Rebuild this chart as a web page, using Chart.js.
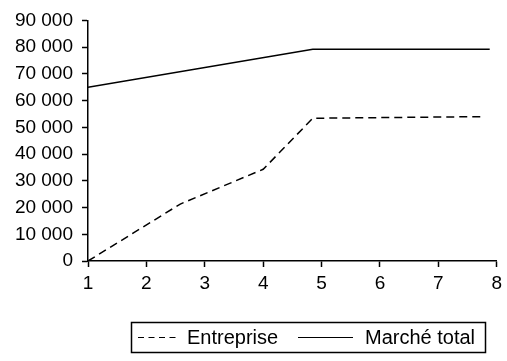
<!DOCTYPE html>
<html>
<head>
<meta charset="utf-8">
<script src="https://cdn.jsdelivr.net/npm/chart.js@4/dist/chart.umd.min.js"></script>
<style>
  html, body { margin: 0; padding: 0; background: #fff; }
  #wrap { width: 507px; height: 361px; position: relative; }
</style>
</head>
<body>
<div id="wrap"><canvas id="c"></canvas></div>
<script>
// Company sales versus total market size over the periods
const seriesNames = ['Entreprise', 'Marché total'];
const entrepriseX = [1, 2.58, 4, 4.85, 7.73];
const entrepriseY = [0, 21300, 34300, 53400, 54000];
const marcheX = [1, 4.85, 7.88];
const marcheY = [65000, 79200, 79200];
const xTicks = [1, 2, 3, 4, 5, 6, 7, 8];
const yTicks = [0, 10000, 20000, 30000, 40000, 50000, 60000, 70000, 80000, 90000];

const FONT = '"Liberation Sans", Arial, Helvetica, sans-serif';

function pairs(xs, ys) {
  return xs.map((x, i) => ({ x: x, y: ys[i] }));
}
function fmt(v) {
  return String(v).replace(/\B(?=(\d{3})+(?!\d))/g, ' ');
}

// Boxed legend drawn below the plot, one row
const boxedLegend = {
  id: 'boxedLegend',
  afterDraw(chart) {
    const ctx = chart.ctx;
    const top = 322.5, h = 30, left = 131.5, right = 485.5;
    const midY = top + h / 2;
    ctx.save();
    ctx.strokeStyle = '#000';
    ctx.lineWidth = 1.5;
    ctx.strokeRect(left, top, right - left, h);
    ctx.font = '20px ' + FONT;
    ctx.fillStyle = '#000';
    ctx.textBaseline = 'middle';
    const layout = [
      { x0: 138, x1: 177, tx: 187, dash: [6, 4.5] },
      { x0: 298, x1: 353, tx: 365, dash: [] }
    ];
    chart.data.datasets.forEach((ds, i) => {
      const l = layout[i];
      ctx.beginPath();
      ctx.setLineDash(ds.borderDash ? l.dash : []);
      ctx.lineWidth = 1.2;
      ctx.moveTo(l.x0, midY);
      ctx.lineTo(l.x1, midY);
      ctx.stroke();
      ctx.setLineDash([]);
      ctx.fillText(ds.label, l.tx, midY + 1);
    });
    ctx.restore();
  }
};

new Chart(document.getElementById('c'), {
  type: 'line',
  data: {
    datasets: [
      {
        label: seriesNames[0],
        data: pairs(entrepriseX, entrepriseY),
        borderColor: '#000',
        borderWidth: 1.5,
        borderDash: [8, 5],
        pointRadius: 0,
        tension: 0,
        fill: false
      },
      {
        label: seriesNames[1],
        data: pairs(marcheX, marcheY),
        borderColor: '#000',
        borderWidth: 1.5,
        pointRadius: 0,
        tension: 0,
        fill: false
      }
    ]
  },
  options: {
    responsive: true,
    maintainAspectRatio: false,
    animation: false,
    layout: { padding: { top: 19, right: 10, bottom: 0, left: 0 } },
    plugins: {
      legend: { display: false },
      tooltip: { enabled: false }
    },
    scales: {
      x: {
        type: 'linear',
        min: 1,
        max: 8,
        afterBuildTicks(scale) { scale.ticks = xTicks.map(v => ({ value: v })); },
        afterFit(scale) { scale.height = 100; },
        ticks: {
          color: '#000',
          font: { family: FONT, size: 19 },
          padding: 5,
          maxRotation: 0,
          callback: v => String(v)
        },
        grid: {
          display: true,
          drawOnChartArea: false,
          drawTicks: true,
          tickLength: 6,
          tickWidth: 1.5,
          tickColor: '#000'
        },
        border: { display: true, color: '#000', width: 1.5 }
      },
      y: {
        min: 0,
        max: 90000,
        afterBuildTicks(scale) { scale.ticks = yTicks.map(v => ({ value: v })); },
        afterFit(scale) { scale.width = 88; },
        ticks: {
          color: '#000',
          font: { family: FONT, size: 19 },
          padding: 9,
          callback: v => fmt(v)
        },
        grid: {
          display: true,
          drawOnChartArea: false,
          drawTicks: true,
          tickLength: 6,
          tickWidth: 1.5,
          tickColor: '#000'
        },
        border: { display: true, color: '#000', width: 1.5 }
      }
    }
  },
  plugins: [boxedLegend]
});
</script>
</body>
</html>
